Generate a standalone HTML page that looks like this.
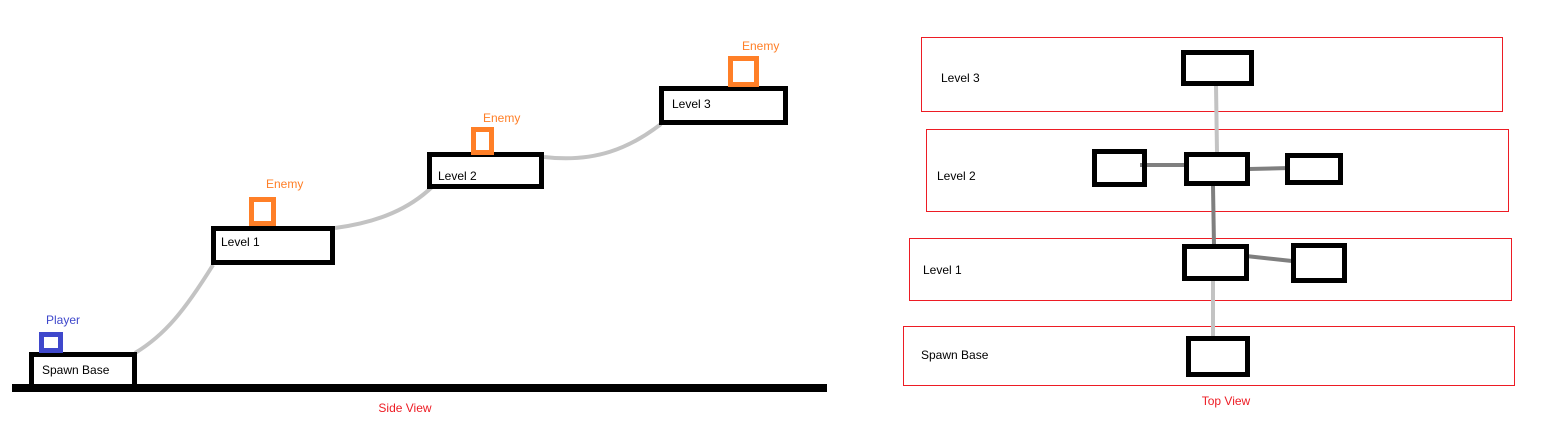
<!DOCTYPE html>
<html><head><meta charset="utf-8"><style>
html,body{margin:0;padding:0;background:#fff;width:1554px;height:443px;overflow:hidden}
svg text{font-family:"Liberation Sans",sans-serif;font-size:12px}
</style></head><body>
<svg width="1554" height="443" viewBox="0 0 1554 443">
<g fill="none">
<path d="M135 353 C165 335 185 310 213 265" stroke="#c3c3c3" stroke-width="4"/>
<path d="M335 228 C380 222 410 208 432 187" stroke="#c3c3c3" stroke-width="4"/>
<path d="M544 157 C595 163 630 148 661 124" stroke="#c3c3c3" stroke-width="4"/>
<rect x="12" y="384" width="815" height="8" fill="#000"/>
<rect x="31.5" y="354.5" width="103" height="32" stroke="#000" stroke-width="5" fill="#fff"/>
<rect x="41.5" y="334.5" width="19" height="16" stroke="#3f48cc" stroke-width="5"/>
<rect x="213.5" y="228.5" width="119" height="34" stroke="#000" stroke-width="5"/>
<rect x="251.5" y="199.5" width="22" height="24" stroke="#ff7f27" stroke-width="5"/>
<rect x="429.5" y="154.5" width="112" height="32" stroke="#000" stroke-width="5"/>
<rect x="473.5" y="129.5" width="18" height="23" stroke="#ff7f27" stroke-width="5"/>
<rect x="661.5" y="88.5" width="124" height="34" stroke="#000" stroke-width="5"/>
<rect x="730.5" y="58.5" width="26" height="26" stroke="#ff7f27" stroke-width="5"/>
</g>
<g>
<text x="46" y="324" fill="#3f48cc">Player</text>
<text x="42" y="374" fill="#000">Spawn Base</text>
<text x="221" y="246" fill="#000">Level 1</text>
<text x="266" y="188" fill="#ff7f27">Enemy</text>
<text x="438" y="180" fill="#000">Level 2</text>
<text x="483" y="122" fill="#ff7f27">Enemy</text>
<text x="672" y="108" fill="#000">Level 3</text>
<text x="742" y="50" fill="#ff7f27">Enemy</text>
<text x="405" y="412" text-anchor="middle" fill="#ed1c24">Side View</text>
</g>
<g fill="none">
<rect x="921.5" y="37.5" width="581" height="74" stroke="#ed1c24" stroke-width="1"/>
<rect x="926.5" y="129.5" width="582" height="82" stroke="#ed1c24" stroke-width="1"/>
<rect x="909.5" y="238.5" width="602" height="62" stroke="#ed1c24" stroke-width="1"/>
<rect x="903.5" y="326.5" width="611" height="59" stroke="#ed1c24" stroke-width="1"/>
<line x1="1216" y1="85" x2="1217" y2="153" stroke="#c3c3c3" stroke-width="4"/>
<line x1="1140" y1="165" x2="1187" y2="165" stroke="#7f7f7f" stroke-width="4"/>
<line x1="1249" y1="169" x2="1290" y2="168" stroke="#7f7f7f" stroke-width="4"/>
<line x1="1213" y1="186" x2="1214" y2="246" stroke="#7f7f7f" stroke-width="4"/>
<line x1="1246" y1="256" x2="1292" y2="261" stroke="#7f7f7f" stroke-width="4"/>
<line x1="1213" y1="281" x2="1213" y2="338" stroke="#c3c3c3" stroke-width="4"/>
<rect x="1183.5" y="52.5" width="68" height="31" stroke="#000" stroke-width="5"/>
<rect x="1094.5" y="151.5" width="50" height="33" stroke="#000" stroke-width="5"/>
<rect x="1186.5" y="154.5" width="61" height="29" stroke="#000" stroke-width="5"/>
<rect x="1287.5" y="155.5" width="53" height="27" stroke="#000" stroke-width="5"/>
<rect x="1184.5" y="246.5" width="62" height="32" stroke="#000" stroke-width="5"/>
<rect x="1293.5" y="245.5" width="51" height="35" stroke="#000" stroke-width="5"/>
<rect x="1188.5" y="338.5" width="59" height="36" stroke="#000" stroke-width="5"/>
</g>
<g>
<text x="941" y="82" fill="#000">Level 3</text>
<text x="937" y="180" fill="#000">Level 2</text>
<text x="923" y="274" fill="#000">Level 1</text>
<text x="921" y="359" fill="#000">Spawn Base</text>
<text x="1226" y="405" text-anchor="middle" fill="#ed1c24">Top View</text>
</g>
</svg>
</body></html>
